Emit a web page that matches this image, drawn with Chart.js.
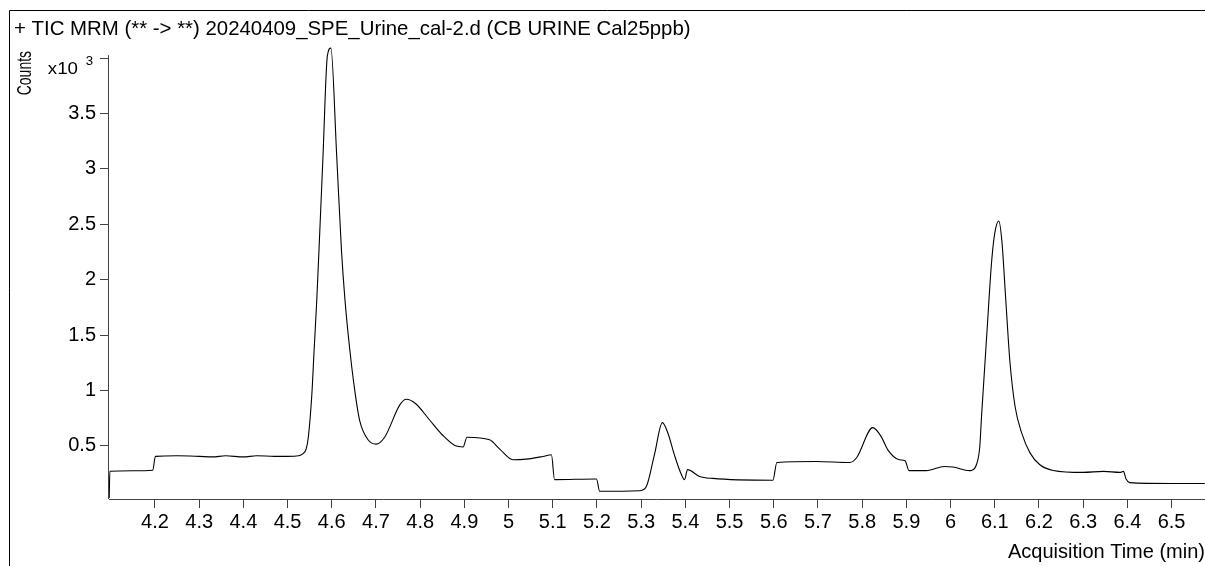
<!DOCTYPE html>
<html>
<head>
<meta charset="utf-8">
<script src="https://cdn.jsdelivr.net/npm/chart.js@4.4.1/dist/chart.umd.min.js"></script>
<style>
  html, body { margin: 0; padding: 0; background: #fff; overflow: hidden; }
  canvas { display: block; }
</style>
</head>
<body>
<canvas id="tic" width="1205" height="566"></canvas>
<script>
const tiempos = [
  4.0965, 4.098, 4.15, 4.195, 4.201, 4.25, 4.30, 4.33, 4.36, 4.40, 4.43, 4.47, 4.50, 4.525,
  4.535, 4.542, 4.547, 4.555, 4.560, 4.566, 4.571, 4.580, 4.590, 4.598, 4.611, 4.622, 4.630,
  4.641, 4.652, 4.663, 4.683, 4.700, 4.720, 4.754, 4.769, 4.790, 4.820, 4.850, 4.880, 4.897,
  4.906, 4.957, 4.980, 5.010, 5.040, 5.078, 5.097, 5.104, 5.199, 5.206, 5.297, 5.312, 5.330,
  5.348, 5.360, 5.375, 5.390, 5.398, 5.405, 5.432, 5.462, 5.598, 5.607, 5.696, 5.772, 5.787,
  5.824, 5.843, 5.858, 5.884, 5.897, 5.906, 5.945, 5.986, 6.005, 6.043, 6.047, 6.059, 6.066,
  6.070, 6.082, 6.093, 6.100, 6.109, 6.116, 6.125, 6.134, 6.146, 6.161, 6.180, 6.202, 6.232,
  6.300, 6.346, 6.383, 6.391, 6.397, 6.405, 6.500, 6.575
];
const cuentas = [
  0.03, 0.27, 0.275, 0.28, 0.405, 0.41, 0.405, 0.40, 0.41, 0.40, 0.41, 0.405, 0.405, 0.41,
  0.43, 0.47, 0.58, 0.97, 1.36, 1.81, 2.26, 3.10, 4.02, 4.09, 3.13, 2.26, 1.81,
  1.36, 1.00, 0.73, 0.55, 0.515, 0.58, 0.87, 0.92, 0.88, 0.74, 0.60, 0.50, 0.49,
  0.578, 0.554, 0.47, 0.374, 0.38, 0.404, 0.419, 0.195, 0.201, 0.09, 0.095, 0.135, 0.42,
  0.709, 0.62, 0.42, 0.25, 0.195, 0.285, 0.224, 0.206, 0.189, 0.35, 0.359, 0.35, 0.39,
  0.664, 0.583, 0.464, 0.374, 0.365, 0.276, 0.276, 0.314, 0.309, 0.276, 0.278, 0.336, 0.49,
  0.763, 1.51, 2.17, 2.42, 2.53, 2.35, 1.81, 1.27, 0.853, 0.614, 0.434, 0.329, 0.278,
  0.26, 0.269, 0.26, 0.269, 0.20, 0.168, 0.16, 0.16
];

const ticksX = [4.2, 4.3, 4.4, 4.5, 4.6, 4.7, 4.8, 4.9, 5, 5.1, 5.2, 5.3, 5.4, 5.5, 5.6, 5.7, 5.8, 5.9, 6, 6.1, 6.2, 6.3, 6.4, 6.5];
const ticksY = [0.5, 1, 1.5, 2, 2.5, 3, 3.5, 4];

const fuente = "'Liberation Sans', Arial, sans-serif";
const grisEje = '#444';

// Marco, etiqueta "Counts", multiplicador x10^3 y eje Y recortado
const decoracion = {
    id: 'decoracion',
    beforeDraw(chart) {
        const ctx = chart.ctx;
        ctx.save();
        ctx.fillStyle = '#fff';
        ctx.fillRect(0, 0, chart.width, chart.height);
        ctx.strokeStyle = '#000';
        ctx.lineWidth = 1;
        ctx.beginPath();
        ctx.moveTo(9.5, chart.height);
        ctx.lineTo(9.5, 10.5);
        ctx.lineTo(chart.width, 10.5);
        ctx.stroke();
        ctx.restore();
    },
    afterDraw(chart) {
        const ctx = chart.ctx;
        const y = chart.scales.y;
        const yTope = y.getPixelForValue(ticksY[ticksY.length - 1]);
        ctx.save();
        ctx.strokeStyle = grisEje;
        ctx.lineWidth = 1;
        ctx.beginPath();
        ctx.moveTo(Math.round(y.right) - 0.5, yTope - 3);
        ctx.lineTo(Math.round(y.right) - 0.5, y.bottom);
        ctx.stroke();
        ctx.restore();

        // multiplicador en lugar de la marca superior (texto algo ensanchado como el original)
        ctx.save();
        ctx.fillStyle = '#000';
        ctx.textBaseline = 'alphabetic';
        ctx.translate(y.right - 31, yTope + 16);
        ctx.scale(1.1, 1);
        ctx.textAlign = 'right';
        ctx.font = '17px ' + fuente;
        ctx.fillText('x10', 0, 0);
        ctx.textAlign = 'left';
        ctx.font = '12px ' + fuente;
        ctx.fillText('3', 7, -9);
        ctx.restore();

        ctx.save();
        ctx.fillStyle = '#000';
        ctx.translate(26, yTope + 15);
        ctx.scale(1.4, 1);
        ctx.rotate(-Math.PI / 2);
        ctx.font = '14px ' + fuente;
        ctx.textAlign = 'center';
        ctx.textBaseline = 'middle';
        ctx.fillText('Counts', 0, 0);
        ctx.restore();
    }
};

const grafico = new Chart(document.getElementById('tic'), {
    type: 'line',
    data: {
        datasets: [{
            data: tiempos.map((t, i) => ({ x: t, y: cuentas[i] })),
            borderColor: '#000',
            borderWidth: 1.1,
            pointRadius: 0,
            cubicInterpolationMode: 'monotone',
            fill: false
        }]
    },
    options: {
        responsive: false,
        animation: false,
        layout: { padding: { left: 14, top: 10, right: 0, bottom: 0 } },
        plugins: {
            legend: { display: false },
            tooltip: { enabled: false },
            title: {
                display: true,
                align: 'start',
                text: '+ TIC MRM (** -> **) 20240409_SPE_Urine_cal-2.d (CB URINE Cal25ppb)',
                color: '#000',
                font: { family: fuente, size: 20.4, weight: 'normal' },
                padding: { top: 7, bottom: 0 }
            }
        },
        scales: {
            x: {
                type: 'linear',
                min: 4.096,
                max: 6.5756,
                afterBuildTicks: s => { s.ticks = ticksX.map(v => ({ value: v })); },
                afterFit: s => { s.height = 67; },
                ticks: {
                    color: '#000',
                    font: { family: fuente, size: 20 },
                    padding: 2,
                    maxRotation: 0,
                    autoSkip: false,
                    callback: v => String(v)
                },
                grid: { drawOnChartArea: false, drawTicks: true, tickLength: 9, color: grisEje },
                border: { display: true, color: grisEje },
                title: {
                    display: true,
                    text: 'Acquisition Time (min)',
                    align: 'end',
                    color: '#000',
                    font: { family: fuente, size: 20 },
                    padding: { top: 0, bottom: 2 }
                }
            },
            y: {
                min: 0.02,
                max: 4.15,
                afterBuildTicks: s => { s.ticks = ticksY.map(v => ({ value: v })); },
                afterFit: s => { s.width = 95; },
                ticks: {
                    color: '#000',
                    font: { family: fuente, size: 20 },
                    padding: 4,
                    callback: v => (v === 4 ? '' : String(v))
                },
                grid: { drawOnChartArea: false, drawTicks: true, tickLength: 9, color: grisEje },
                border: { display: false }
            }
        }
    },
    plugins: [decoracion]
});
</script>
</body>
</html>
